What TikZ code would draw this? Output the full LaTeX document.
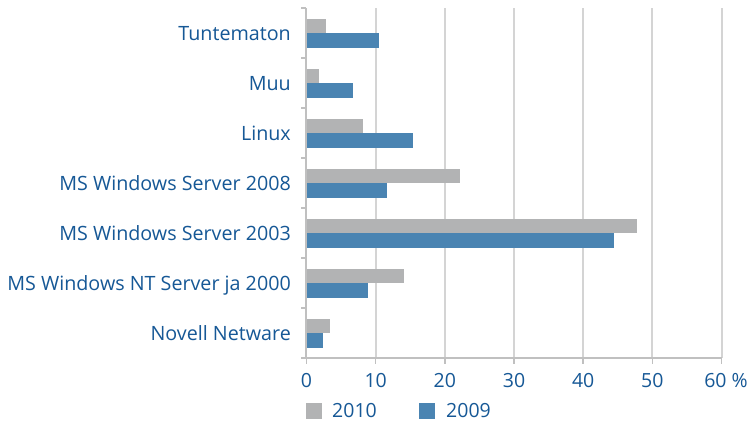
\documentclass[tikz,border=0pt]{standalone}
\usepackage{fontspec}
\setmainfont{Open Sans}
\definecolor{txt}{RGB}{22,88,150}
\definecolor{gbar}{RGB}{178,179,180}
\definecolor{bbar}{RGB}{74,132,178}
\definecolor{gridc}{RGB}{212,212,212}
\definecolor{axisc}{RGB}{192,192,192}
\begin{document}
\begin{tikzpicture}[x=1pt,y=-1pt,
  lab/.style={font=\fontsize{19.7}{21}\selectfont, text=txt, inner sep=0pt},
  nlab/.style={font=\fontsize{19.5}{21}\selectfont, text=txt, inner sep=0pt},
  gridline/.style={draw=gridc, line width=2pt},
  axisline/.style={draw=axisc, line width=1.6pt},
  bar2010/.style={fill=gbar},
  bar2009/.style={fill=bbar}]
\useasboundingbox (0,0) rectangle (751,421);
\fill[white] (0,0) rectangle (751,421);
\def\xo{306.5}
\def\xs{6.917}
% gridlines
\foreach \v in {10,20,...,60}{
  \draw[gridline] ({\xo+\v*\xs},8) -- ({\xo+\v*\xs},358);
}
% bars and labels
\foreach \i/\name/\g/\b in {0/Tuntematon/2.8/10.5, 1/Muu/1.8/6.7, 2/Linux/8.2/15.4,
  3/MS Windows Server 2008/22.2/11.6, 4/MS Windows Server 2003/47.8/44.5,
  5/MS Windows NT Server ja 2000/14.1/8.9, 6/Novell Netware/3.4/2.4}{
  \pgfmathsetmacro\t{8+50*\i}
  \fill[bar2010] (\xo,{\t+11}) rectangle ({\xo+\g*\xs},{\t+25});
  \fill[bar2009] (\xo,{\t+25}) rectangle ({\xo+\b*\xs},{\t+39.5});
  \node[lab, anchor=base east] (cat\i) at (291,{\t+32.5}) {\name};
}
% axes
\draw[axisline] (306,8) -- (306,358) -- (721.5,358);
\foreach \i in {0,...,7}{
  \draw[axisline] (301,{8+50*\i}) -- (306,{8+50*\i});
}
\foreach \v in {0,10,...,60}{
  \draw[axisline] ({\xo+\v*\xs},358) -- ({\xo+\v*\xs},364);
}
\foreach \v in {0,10,...,50}{
  \node[nlab, anchor=base] (tick\v) at ({\xo+\v*\xs},387) {\v};
}
\node[nlab, anchor=base] (tick60) at (726,387) {60 \%};
% legend
\fill[bar2010] (306,403) rectangle (322,419);
\node[nlab, anchor=base west] (leg2010) at (332,417) {2010};
\fill[bar2009] (419,403) rectangle (435,419);
\node[nlab, anchor=base west] (leg2009) at (446,417) {2009};
\end{tikzpicture}
\end{document}
